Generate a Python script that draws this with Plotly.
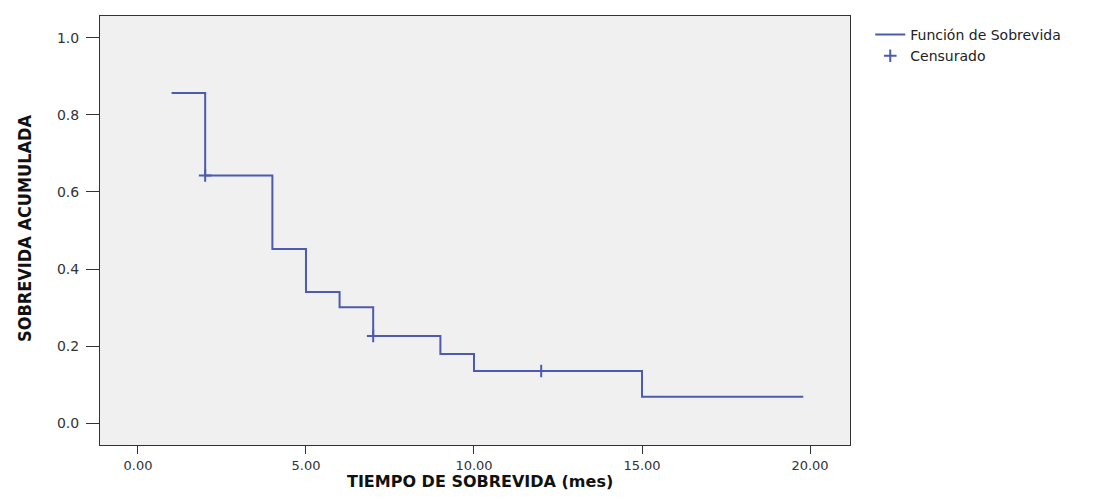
import plotly.graph_objects as go

# Survival step function (time in months, cumulative survival)
event_times = [1, 2, 4, 5, 6, 7, 9, 10, 15]
survival = [0.857, 0.643, 0.452, 0.340, 0.301, 0.226, 0.179, 0.135, 0.068]
end_time = 19.8

# Censored observations
censor_times = [2, 7, 12]
censor_surv = [0.643, 0.226, 0.135]

x_ticks = [0, 5, 10, 15, 20]
x_tick_labels = ["0.00", "5.00", "10.00", "15.00", "20.00"]
y_ticks = [0.0, 0.2, 0.4, 0.6, 0.8, 1.0]
y_tick_labels = ["0.0", "0.2", "0.4", "0.6", "0.8", "1.0"]

line_color = "#4C5BB0"

step_x = event_times + [end_time]
step_y = survival + [survival[-1]]

fig = go.Figure()
fig.add_trace(go.Scatter(
    x=step_x, y=step_y, mode="lines", line_shape="hv",
    line=dict(color=line_color, width=2),
    name="Función de Sobrevida",
))
fig.add_trace(go.Scatter(
    x=censor_times, y=censor_surv, mode="markers",
    marker=dict(symbol="cross-thin", size=9, line=dict(color=line_color, width=2), color=line_color),
    name="Censurado",
))

# page body has an 8px margin: figure sized/placed to compensate
fig.update_layout(
    width=1093, height=484,
    margin=dict(l=92, r=251, t=8, b=47, autoexpand=False),
    paper_bgcolor="white",
    plot_bgcolor="#F0F0F0",
    font=dict(family="DejaVu Sans, sans-serif", size=14, color="#333"),
    showlegend=True,
    legend=dict(x=1.027, y=0.993, xanchor="left", yanchor="top",
                font=dict(family="DejaVu Sans, sans-serif", size=14, color="#222"),
                bgcolor="rgba(0,0,0,0)", tracegroupgap=0, itemwidth=30),
    annotations=[
        dict(text="<b>SOBREVIDA ACUMULADA</b>", xref="paper", yref="paper",
             x=-0.1013, y=0.5058, textangle=-90, showarrow=False,
             xanchor="center", yanchor="middle",
             font=dict(family="DejaVu Sans Condensed, DejaVu Sans, sans-serif", size=18, color="#111")),
        dict(text="<b>TIEMPO DE SOBREVIDA (mes)</b>", xref="paper", yref="paper",
             x=0.506, y=-0.0851, showarrow=False, xanchor="center", yanchor="middle",
             font=dict(family="DejaVu Sans, sans-serif", size=16, color="#111")),
    ],
)
fig.update_xaxes(
    range=[-1.13, 21.19], tickvals=x_ticks, ticktext=x_tick_labels,
    showgrid=False, zeroline=False, showline=True, mirror=True,
    linecolor="#333", linewidth=1, ticks="outside", ticklen=8, tickcolor="#333",
    tickfont=dict(family="DejaVu Sans, sans-serif", size=13, color="#333"),
)
fig.update_yaxes(
    range=[-0.057, 1.057], tickvals=y_ticks, ticktext=y_tick_labels,
    showgrid=False, zeroline=False, showline=True, mirror=True,
    linecolor="#333", linewidth=1, ticks="outside", ticklen=13, tickcolor="#333",
    ticklabelstandoff=4,
    tickfont=dict(family="DejaVu Sans, sans-serif", size=14, color="#333"),
)

fig.write_html("out.html")
